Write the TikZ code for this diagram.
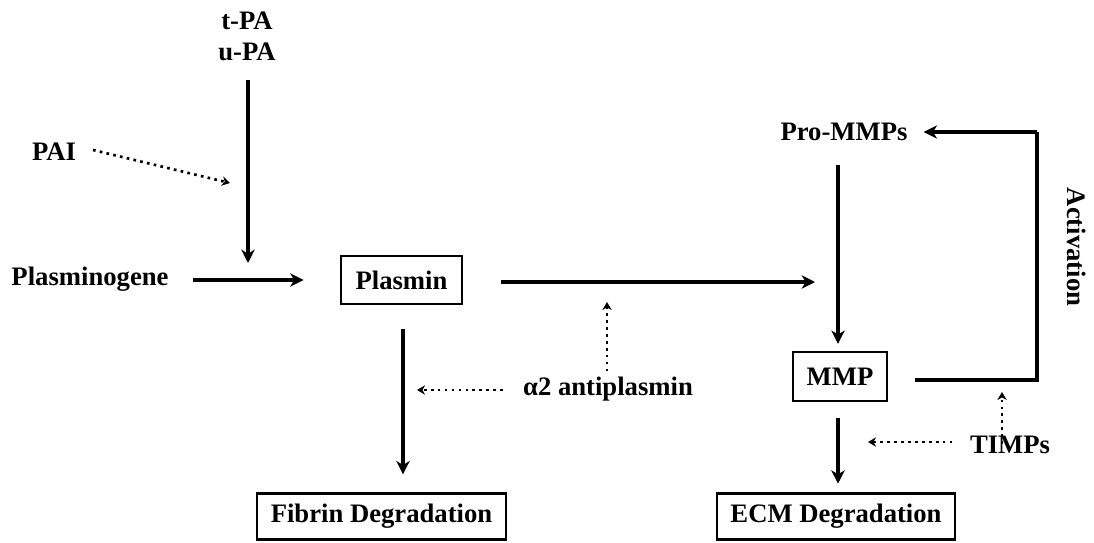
\documentclass[tikz,border=0pt]{standalone}
\usepackage{fontspec}
\setmainfont{Liberation Serif}
\usetikzlibrary{arrows.meta}
\tikzset{
  txt/.style={inner sep=0pt, font=\fontsize{20}{24}\selectfont\bfseries},
  box/.style={txt, draw, line width=2.2pt},
  arr/.style={line width=3pt, -{Stealth[length=10pt,width=10pt,inset=3pt]}},
  dotarr/.style={line width=2pt, dash pattern=on 2pt off 3.2pt, -{Stealth[length=6pt,width=7pt]}},
  plain/.style={line width=3pt}
}
\begin{document}
\begin{tikzpicture}[x=0.75pt,y=-0.75pt]
\useasboundingbox (0,0) rectangle (1094,542);
% nodes
\node[txt] (tpa) at (247,21) {t-PA};
\node[txt] (upa) at (247,52) {u-PA};
\node[txt] (pai) at (54,152) {PAI};
\node[txt] (plg) at (90,279) {Plasminogene};
\node[box, minimum width=90.75pt, minimum height=36pt] (plasmin) at (401.5,280) {Plasmin};
\node[box, minimum width=186.75pt, minimum height=35pt] (fibrin) at (381.5,516.5) {Fibrin Degradation};
\node[txt] (prommp) at (844,132) {Pro-MMPs};
\node[box, minimum width=70.5pt, minimum height=36.75pt] (mmp) at (840,376.5) {MMP};
\node[box, minimum width=178.5pt, minimum height=35pt] (ecm) at (836,516.5) {ECM Degradation};
\node[txt] (a2ap) at (608,389) {α2 antiplasmin};
\node[txt] (timps) at (1010,445) {TIMPs};
\node[txt, rotate=-90] (act) at (1077,247) {Activation};
% helper coordinates
\coordinate (ustart) at (248,80);
\coordinate (uend) at (248,263);
\coordinate (paistart) at (93,150);
\coordinate (paiend) at (230,183);
\coordinate (mmparrowend) at (815,282);
\coordinate (a2up) at (607,302);
\coordinate (a2left) at (417,390);
\coordinate (c1) at (1037,380);
\coordinate (c2) at (1037,132);
\coordinate (timpsup) at (1002,392);
\coordinate (timpsleft) at (868,442);
% connectors
\draw[arr] (ustart) -- (uend);
\draw[dotarr] (paistart) -- (paiend);
\draw[arr] ([xshift=18pt,yshift=-0.75pt]plg.east) -- ([xshift=-27pt]plasmin.west);
\draw[arr] ([xshift=28.5pt,yshift=-1.5pt]plasmin.east) -- (mmparrowend);
\draw[dotarr] ([yshift=4pt]a2ap.north -| a2up) -- (a2up);
\draw[dotarr] ([xshift=-15pt]a2ap.west |- a2left) -- (a2left);
\draw[arr] ([yshift=-18pt]plasmin.south -| 403,0) -- ([yshift=13pt]fibrin.north -| 403,0);
\draw[arr] ([yshift=-18pt]prommp.south -| 838,0) -- ([yshift=5pt]mmp.north -| 838,0);
\draw[arr] ([yshift=-12pt]mmp.south -| 838,0) -- ([yshift=6pt]ecm.north -| 838,0);
\draw[plain, line join=miter] ([xshift=20pt]mmp.east |- c1) -- (c1) -- (c2);
\draw[arr] (c2) -- ([xshift=12pt]prommp.east |- c2);
\draw[dotarr] ([yshift=-6pt]timps.north -| timpsup) -- (timpsup);
\draw[dotarr] ([xshift=-13pt]timps.west |- timpsleft) -- (timpsleft);
\end{tikzpicture}
\end{document}
